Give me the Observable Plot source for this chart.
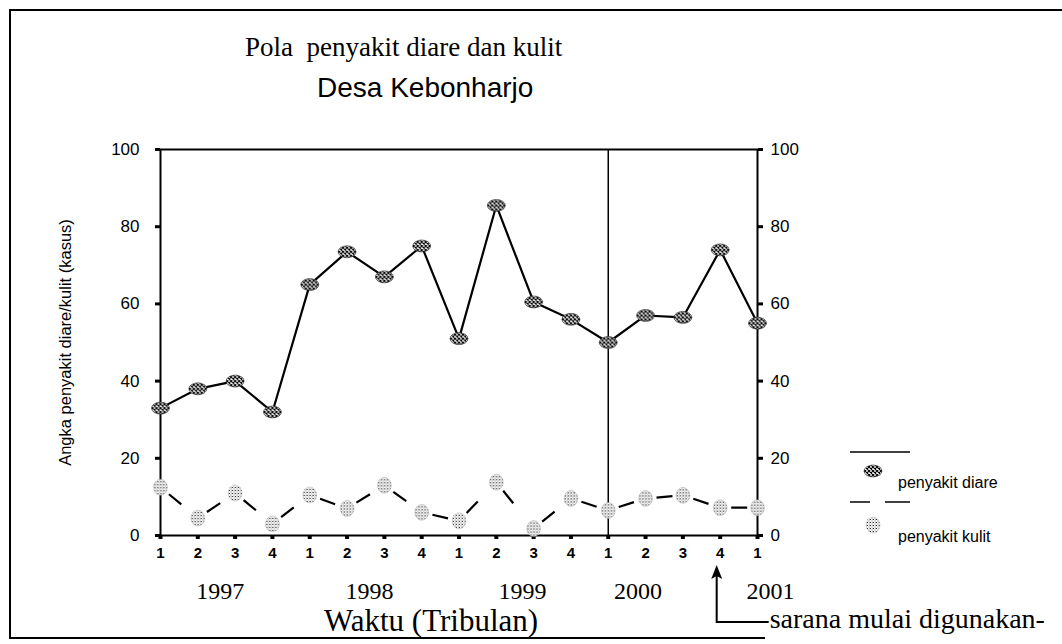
<!DOCTYPE html>
<html><head><meta charset="utf-8">
<script src="https://cdn.jsdelivr.net/npm/d3@7"></script>
<script src="https://cdn.jsdelivr.net/npm/@observablehq/plot@0.6"></script>
<style>
html,body{margin:0;padding:0;background:#fff;}
#chart{width:1062px;height:644px;overflow:hidden;}
</style></head><body><div id="chart"></div>
<script>
// ---- data ----
const quarters = ["1","2","3","4","1","2","3","4","1","2","3","4","1","2","3","4","1"];
const diare = [33,38,40,32,65,73.5,67,75,51,85.5,60.5,56,50,57,56.5,74,55];
const kulit = [12.5,4.5,11,3,10.5,7,13,6,3.8,13.8,1.8,9.6,6.5,9.6,10.4,7.2,7.2];
const yearLabels = ["1997","1998","1999","2000","2001"];
const yearCenters = [1.6,5.6,9.7,12.8,16.35];
const yTicks = [0,20,40,60,80,100];
const dividerQuarter = 12;   // 2000 Q1
const saranaQuarter = 15;    // 2000 Q4
const titleText = "Pola\u00a0 penyakit diare dan kulit";
const subtitleText = "Desa Kebonharjo";
const yLabel = "Angka penyakit diare/kulit (kasus)";
const xLabel = "Waktu (Tribulan)";
const noteText = "sarana mulai digunakan-";
const legendNames = ["penyakit diare", "penyakit kulit"];

const idx = d3.range(quarters.length);

function ellipseSymbol(kx, ky) {
  return { draw(context, size) {
    const r = Math.sqrt(size / Math.PI);
    const n = 16;
    for (let i = 0; i < n; i++) {
      const a = 2 * Math.PI * i / n;
      const px = kx * r * Math.cos(a), py = ky * r * Math.sin(a);
      if (i) context.lineTo(px, py); else context.moveTo(px, py);
    }
    context.closePath();
  }};
}
const diareSym = ellipseSymbol(1.25, 0.83);
const kulitSym = ellipseSymbol(0.93, 1.07);

const DIARE_FILL = "#7f7f7e", KULIT_FILL = "#bbbbba";
const serif = "'Liberation Serif', 'Times New Roman', serif";
const sans = "'Liberation Sans', Arial, sans-serif";

const plot = Plot.plot({
  width: 1062, height: 644,
  marginLeft: 160, marginRight: 305, marginTop: 149, marginBottom: 109,
  style: {fontFamily: sans, fontSize: "17px", color: "black", background: "white", overflow: "visible"},
  x: {domain: [0, 16]},
  y: {domain: [0, 100]},
  marks: [
    Plot.frame({stroke: "black", strokeWidth: 2}),
    Plot.ruleX([dividerQuarter], {stroke: "black", strokeWidth: 1.5}),
    Plot.axisY(yTicks, {anchor: "left", tickSize: 5, tickPadding: 16, strokeWidth: 3, fontSize: 17, label: null}),
    Plot.axisY(yTicks, {anchor: "right", tickSize: 5, tickPadding: 8, strokeWidth: 3, fontSize: 17, label: null}),
    Plot.axisX(idx, {anchor: "bottom", tickSize: 4, strokeWidth: 4, tickPadding: 8, fontSize: 15, fontWeight: "bold", tickFormat: i => quarters[i], label: null}),
    Plot.text(yearLabels, {x: (d, i) => yearCenters[i], frameAnchor: "bottom", lineAnchor: "middle", dy: 56, fontFamily: serif, fontSize: 24}),
    Plot.text([xLabel], {frameAnchor: "bottom", lineAnchor: "middle", textAnchor: "middle", dx: -28, dy: 86, fontFamily: serif, fontSize: 31}),
    Plot.text([yLabel], {frameAnchor: "left", textAnchor: "middle", lineAnchor: "middle", rotate: -90, dx: -95, fontSize: 16.5}),
    Plot.line(idx, {x: i => i, y: i => diare[i], stroke: "black", strokeWidth: 2.2}),
    Plot.link(idx.slice(0, -1), {x1: i => i, y1: i => kulit[i], x2: i => i + 1, y2: i => kulit[i + 1], stroke: "black", strokeWidth: 2.2, strokeDasharray: "0 11 16 300"}),
    Plot.dot(idx, {x: i => i, y: i => kulit[i], r: 7.5, symbol: kulitSym, fill: KULIT_FILL, stroke: "#aaa", strokeWidth: 0.4}),
    Plot.dot(idx, {x: i => i, y: i => diare[i], r: 7.2, symbol: diareSym, fill: DIARE_FILL, stroke: "#222", strokeWidth: 0.6})
  ]
});

document.getElementById("chart").appendChild(plot);

const svg = d3.select(plot);
const defs = svg.insert("defs", ":first-child");
const p1 = defs.append("pattern").attr("id", "hatchDark").attr("patternUnits", "userSpaceOnUse").attr("width", 4).attr("height", 4);
p1.append("rect").attr("width", 4).attr("height", 4).attr("fill", "white");
p1.append("path").attr("d", "M0,0L4,4M4,0L0,4").attr("stroke", "black").attr("stroke-width", 1.1);
const p2 = defs.append("pattern").attr("id", "dotLight").attr("patternUnits", "userSpaceOnUse").attr("width", 3).attr("height", 3);
p2.append("rect").attr("width", 3).attr("height", 3).attr("fill", "white");
p2.append("rect").attr("width", 1).attr("height", 1).attr("fill", "#222");
p2.append("rect").attr("x", 1.5).attr("y", 1.5).attr("width", 1).attr("height", 1).attr("fill", "#666");
p2.append("rect").attr("x", 2).attr("y", 0).attr("width", 1).attr("height", 1).attr("fill", "#bbb");

svg.selectAll(`[fill="${DIARE_FILL}"]`).attr("fill", "url(#hatchDark)");
svg.selectAll(`[fill="${KULIT_FILL}"]`).attr("fill", "url(#dotLight)");

// page border
svg.append("path").attr("d", "M1062,10H10V638H765").attr("fill", "none").attr("stroke", "black").attr("stroke-width", 2);

// titles
svg.append("text").attr("x", 245).attr("y", 56).attr("text-anchor", "start").attr("font-family", serif).attr("font-size", 27).attr("fill", "black").text(titleText);
svg.append("text").attr("x", 317).attr("y", 97).attr("text-anchor", "start").attr("font-family", sans).attr("font-size", 28).attr("fill", "black").text(subtitleText);

// annotation arrow
const xs = plot.scale("x");
const xa = xs.apply(saranaQuarter) - 3;
svg.append("path").attr("d", `M${xa},576V622H${xa + 52}`).attr("fill", "none").attr("stroke", "black").attr("stroke-width", 2);
svg.append("path").attr("d", `M${xa},565L${xa - 5.5},579L${xa},576L${xa + 5.5},579Z`).attr("fill", "black");
svg.append("text").attr("x", xa + 53).attr("y", 628).attr("text-anchor", "start").attr("font-family", serif).attr("font-size", 28).attr("fill", "black").text(noteText);

// legend
const lg = svg.append("g").attr("text-anchor", "start");
lg.append("line").attr("x1", 850).attr("x2", 910).attr("y1", 452).attr("y2", 452).attr("stroke", "black").attr("stroke-width", 1.6);
lg.append("path").attr("d", d3.symbol().type(diareSym).size(Math.PI * 7.2 * 7.2)()).attr("transform", "translate(873,471)").attr("fill", "url(#hatchDark)").attr("stroke", "#222").attr("stroke-width", 0.6);
lg.append("text").attr("x", 898).attr("y", 488).attr("font-family", sans).attr("font-size", 16).attr("fill", "black").text(legendNames[0]);
lg.append("path").attr("d", "M850,502H870M885,502H910").attr("stroke", "black").attr("stroke-width", 1.6);
lg.append("path").attr("d", d3.symbol().type(kulitSym).size(Math.PI * 7.5 * 7.5)()).attr("transform", "translate(873,525)").attr("fill", "url(#dotLight)").attr("stroke", "#aaa").attr("stroke-width", 0.4);
lg.append("text").attr("x", 898).attr("y", 542).attr("font-family", sans).attr("font-size", 16).attr("fill", "black").text(legendNames[1]);
</script>
</body></html>
